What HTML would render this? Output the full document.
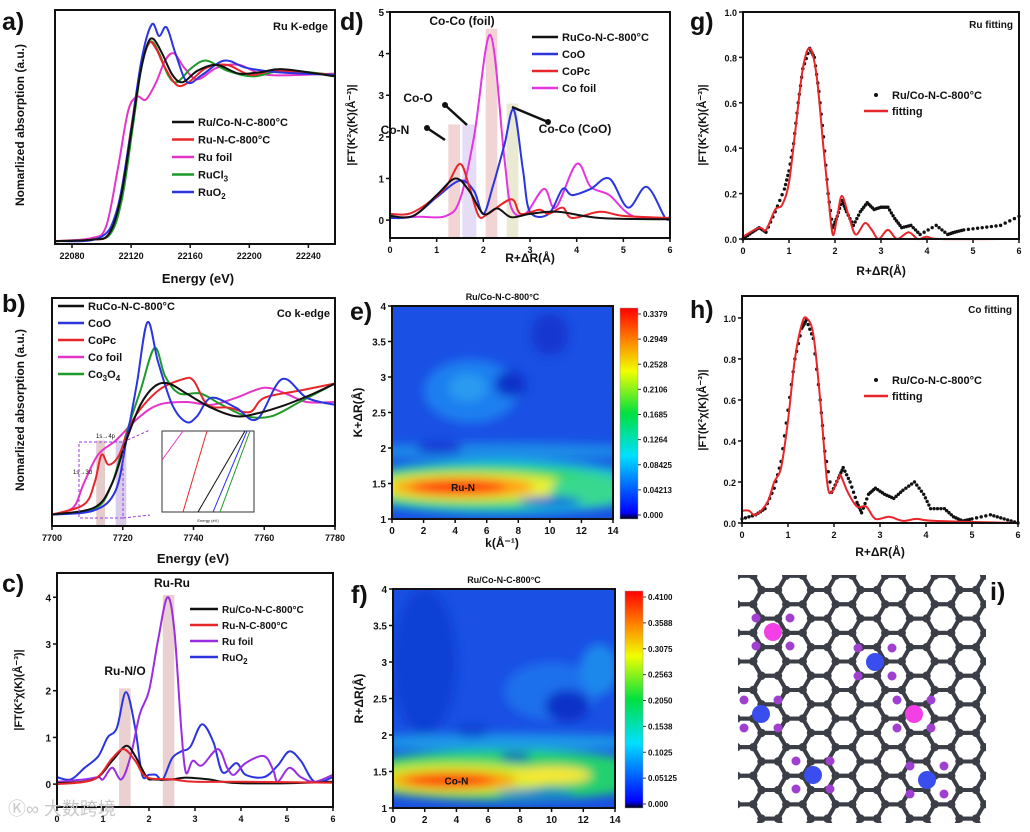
<!DOCTYPE html>
<html><head><meta charset="utf-8">
<style>
html,body{margin:0;padding:0;background:#fff;}
#root{position:relative;width:1030px;height:832px;overflow:hidden;font-family:"Liberation Sans",Arial,sans-serif;}
svg text{font-family:"Liberation Sans",Arial,sans-serif;}
</style></head>
<body>
<div id="root">
<svg id="svg" width="1030" height="832" viewBox="0 0 1030 832">
<defs>
<filter id="blur6" x="-50%" y="-50%" width="200%" height="200%"><feGaussianBlur stdDeviation="5"/></filter>
<linearGradient id="cbar" x1="0" y1="1" x2="0" y2="0">
<stop offset="0" stop-color="#000010"/><stop offset="0.03" stop-color="#0000ff"/><stop offset="0.3" stop-color="#00e0ff"/><stop offset="0.5" stop-color="#00e040"/><stop offset="0.7" stop-color="#f0ff00"/><stop offset="0.85" stop-color="#ff8000"/><stop offset="1" stop-color="#ff0000"/>
</linearGradient>
<clipPath id="clipE"><rect x="392" y="306" width="221" height="213"/></clipPath>
<clipPath id="clipF"><rect x="393" y="589" width="222" height="219"/></clipPath>
<clipPath id="clipI"><rect x="738" y="575" width="248" height="248"/></clipPath>
</defs>
<g id="layer"></g>
</svg>
</div>
<script>
// ---------- DATA ----------
const aRuCo=[[22068,0],[22093,0.01],[22105,0.05],[22113,0.3],[22120,0.75],[22126,1.15],[22131,1.36],[22135,1.4],[22141,1.3],[22148,1.15],[22155,1.1],[22165,1.18],[22178,1.22],[22193,1.16],[22208,1.17],[22223,1.19],[22258,1.14]];
const aRuN=[[22068,0],[22093,0.01],[22105,0.05],[22113,0.32],[22120,0.78],[22126,1.17],[22132,1.37],[22137,1.33],[22143,1.2],[22151,1.08],[22159,1.1],[22171,1.2],[22185,1.22],[22201,1.15],[22218,1.18],[22258,1.15]];
const aRuFoil=[[22068,0],[22093,0.02],[22103,0.1],[22111,0.5],[22118,0.9],[22124,1.0],[22130,0.98],[22137,1.1],[22143,1.25],[22149,1.3],[22156,1.2],[22165,1.12],[22178,1.2],[22193,1.22],[22213,1.15],[22258,1.16]];
const aRuCl3=[[22068,0],[22093,0.01],[22106,0.05],[22114,0.3],[22121,0.78],[22127,1.2],[22133,1.38],[22139,1.3],[22145,1.15],[22151,1.1],[22161,1.2],[22171,1.25],[22185,1.18],[22203,1.14],[22223,1.18],[22258,1.15]];
const aRuO2=[[22068,0],[22098,0.02],[22110,0.2],[22119,0.7],[22127,1.25],[22134,1.5],[22139,1.42],[22144,1.48],[22150,1.3],[22158,1.1],[22168,1.15],[22183,1.25],[22198,1.2],[22218,1.17],[22258,1.15]];
const aXTicks=[22080,22120,22160,22200,22240];
const bRuCo=[[7700,0.03],[7712,0.08],[7717,0.25],[7721,0.55],[7725,0.8],[7729,0.93],[7733,0.95],[7738,0.88],[7745,0.78],[7752,0.72],[7758,0.74],[7766,0.8],[7774,0.88],[7780,0.95]];
const bCoO=[[7700,0.03],[7712,0.06],[7718,0.2],[7721,0.55],[7724,0.95],[7727,1.38],[7730,1.1],[7734,0.8],[7738,0.68],[7741,0.72],[7745,0.85],[7752,0.78],[7758,0.7],[7765,0.98],[7772,0.85],[7780,0.8]];
const bCoPc=[[7700,0.03],[7709,0.1],[7712,0.25],[7714,0.45],[7716,0.38],[7719,0.45],[7723,0.7],[7730,0.9],[7737,0.98],[7740,0.97],[7744,0.8],[7750,0.78],[7756,0.75],[7760,0.85],[7770,0.9],[7780,0.95]];
const bCoFoil=[[7700,0.03],[7706,0.08],[7709,0.25],[7713,0.45],[7718,0.55],[7724,0.7],[7730,0.8],[7738,0.82],[7745,0.8],[7752,0.85],[7760,0.92],[7766,0.88],[7772,0.82],[7780,0.82]];
const bCo3O4=[[7700,0.03],[7712,0.07],[7717,0.25],[7721,0.6],[7725,0.9],[7729,1.2],[7732,1.0],[7736,0.88],[7742,0.88],[7748,0.8],[7755,0.72],[7762,0.72],[7770,0.82],[7780,0.95]];
const bXTicks=[7700,7720,7740,7760,7780];
const cRuCo=[[0,0.02],[0.8,0.1],[1.2,0.5],[1.5,0.82],[1.7,0.6],[1.95,0.15],[2.1,0.1],[2.5,0.1],[2.8,0.14],[3.3,0.1],[3.6,0.05],[4,0.02],[5,0.02],[6,0.05]];
const cRuN=[[0,0],[0.8,0.1],[1.2,0.55],[1.45,0.75],[1.7,0.5],[1.95,0.15],[2.5,0.1],[3,0.05],[4,0.05],[6,0.03]];
const cRuFoil=[[0,0.05],[0.6,0.1],[0.9,0.15],[1.0,0.1],[1.2,0.35],[1.4,0.1],[1.6,0.6],[1.8,1.5],[2.0,2.0],[2.2,3.1],[2.4,4.0],[2.55,3.3],[2.7,1.2],[2.8,0.25],[2.95,0.5],[3.15,0.4],[3.5,0.75],[3.7,0.35],[3.85,0.2],[4.1,0.45],[4.5,0.6],[4.7,0.3],[4.8,0.05],[5.05,0.35],[5.3,0.15],[5.6,0.05],[6,0.2]];
const cRuO2=[[0,0.15],[0.3,0.1],[0.6,0.35],[0.9,0.6],[1.1,1.0],[1.3,1.2],[1.5,1.97],[1.7,1.2],[1.85,0.2],[2.0,0.2],[2.15,0.2],[2.3,0.1],[2.5,0.55],[2.7,0.7],[2.9,0.8],[3.15,1.28],[3.4,0.9],[3.6,0.25],[3.9,0.45],[4.1,0.2],[4.5,0.15],[4.8,0.4],[5.05,0.7],[5.3,0.5],[5.6,0.05],[6,0.15]];
const cYTicks=[0,1,2,3,4];
const rTicks=[0,1,2,3,4,5,6];
const dRuCo=[[0,0.1],[0.5,0.1],[1.0,0.6],[1.4,1.0],[1.7,0.7],[2.0,0.15],[2.3,0.28],[2.6,0.07],[3,0.15],[3.6,0.2],[4.5,0.05],[6,0.02]];
const dCoO=[[0,0.05],[0.5,0.1],[1.0,0.55],[1.5,0.95],[1.8,0.7],[2.0,0.15],[2.2,0.8],[2.45,1.8],[2.65,2.65],[2.85,1.2],[3.0,0.2],[3.4,0.15],[3.7,0.75],[3.9,0.6],[4.3,0.75],[4.7,1.0],[5.1,0.3],[5.5,0.8],[5.9,0.05],[6,0.1]];
const dCoPc=[[0,0.15],[0.4,0.15],[0.8,0.4],[1.2,0.8],[1.5,1.35],[1.7,0.8],[1.9,0.1],[2.1,0.15],[2.6,0.5],[2.8,0.15],[3.2,0.25],[3.4,0.15],[3.7,0.3],[3.9,0.05],[4.5,0.2],[5,0.1],[6,0.05]];
const dCoFoil=[[0,0.05],[0.6,0.08],[1.2,0.1],[1.5,0.5],[1.8,2.0],[2.15,4.45],[2.45,1.5],[2.6,0.3],[2.9,0.15],[3.3,0.75],[3.55,0.3],[4.0,1.35],[4.3,0.8],[4.7,0.6],[5.2,0.1],[6,0.05]];
const dYTicks=[0,1,2,3,4,5];
const gData=[[0,0],[0.2,0.03],[0.35,0.05],[0.5,0.03],[0.7,0.12],[0.9,0.22],[1.0,0.3],[1.1,0.42],[1.2,0.6],[1.3,0.75],[1.45,0.84],[1.55,0.8],[1.65,0.65],[1.75,0.45],[1.85,0.2],[1.95,0.05],[2.05,0.1],[2.15,0.17],[2.25,0.12],[2.4,0.06],[2.55,0.12],[2.7,0.16],[2.85,0.13],[3.0,0.14],[3.15,0.14],[3.3,0.09],[3.45,0.05],[3.65,0.06],[3.85,0.02],[4.2,0.06],[4.45,0.02],[4.6,0.03],[4.8,0.04],[5.2,0.05],[5.6,0.06],[6,0.1]];
const gFit=[[0,0.01],[0.35,0.05],[0.5,0.04],[0.7,0.13],[0.85,0.15],[1.0,0.25],[1.15,0.5],[1.3,0.75],[1.45,0.84],[1.6,0.72],[1.75,0.4],[1.85,0.2],[1.95,0.02],[2.05,0.1],[2.15,0.19],[2.3,0.1],[2.45,0.02],[2.65,0.07],[2.8,0.04],[2.95,0],[3.15,0.04],[3.35,0],[3.6,0.03],[3.8,0],[4.0,0.01],[4.3,0],[6,0]];
const gYTicks=[0,0.2,0.4,0.6,0.8,1.0];
const hData=[[0,0.02],[0.3,0.04],[0.5,0.07],[0.7,0.17],[0.85,0.3],[1.0,0.55],[1.15,0.8],[1.3,0.95],[1.4,0.99],[1.55,0.9],[1.7,0.6],[1.8,0.35],[1.95,0.15],[2.1,0.22],[2.2,0.27],[2.35,0.2],[2.5,0.1],[2.6,0.05],[2.75,0.14],[2.9,0.17],[3.1,0.14],[3.3,0.12],[3.5,0.16],[3.75,0.2],[3.95,0.14],[4.1,0.07],[4.4,0.07],[4.6,0.03],[4.8,0.01],[5.0,0.02],[5.4,0.04],[5.7,0.02],[6,0]];
const hFit=[[0,0.06],[0.15,0.06],[0.3,0.04],[0.55,0.1],[0.7,0.2],[0.85,0.27],[1.0,0.5],[1.15,0.8],[1.3,0.97],[1.4,1.0],[1.55,0.92],[1.7,0.6],[1.85,0.2],[1.95,0.15],[2.1,0.22],[2.15,0.23],[2.3,0.15],[2.5,0.08],[2.7,0.08],[2.9,0.02],[3.2,0.03],[3.5,0.01],[3.8,0.02],[4.2,0.01],[6,0]];
const kTicks=[0,2,4,6,8,10,12,14];
const wYTicks=[1,1.5,2,2.5,3,3.5,4];
const eCbar=["0.3379","0.2949","0.2528","0.2106","0.1685","0.1264","0.08425","0.04213","0.000"];
const fCbar=["0.4100","0.3588","0.3075","0.2563","0.2050","0.1538","0.1025","0.05125","0.000"];

// ---------- DRAW ----------
const NS="http://www.w3.org/2000/svg";
const L=document.getElementById('layer');
function mk(tag,attrs,parent){const e=document.createElementNS(NS,tag);for(const k in attrs)e.setAttribute(k,attrs[k]);(parent||L).appendChild(e);return e;}
function txt(x,y,s,size,opts,parent){const o=opts||{};const t=mk('text',{x:x,y:y,'font-size':size,'font-weight':o.w||'bold','text-anchor':o.a||'start',fill:o.fill||'#111'},parent);if(o.rot)t.setAttribute('transform','rotate('+o.rot+' '+x+' '+y+')');t.textContent=s;return t;}
function axis(x0,x1,y0,y1,xmin,xmax,ymin,ymax){return {sx:v=>x0+(v-xmin)/(xmax-xmin)*(x1-x0),sy:v=>y1-(v-ymin)/(ymax-ymin)*(y1-y0),x0,x1,y0,y1};}
function smooth(pts){let d='M'+pts[0][0].toFixed(1)+','+pts[0][1].toFixed(1);for(let i=0;i<pts.length-1;i++){const p0=pts[i-1]||pts[i],p1=pts[i],p2=pts[i+1],p3=pts[i+2]||p2;const c1=[p1[0]+(p2[0]-p0[0])/6,p1[1]+(p2[1]-p0[1])/6],c2=[p2[0]-(p3[0]-p1[0])/6,p2[1]-(p3[1]-p1[1])/6];d+='C'+c1[0].toFixed(1)+','+c1[1].toFixed(1)+' '+c2[0].toFixed(1)+','+c2[1].toFixed(1)+' '+p2[0].toFixed(1)+','+p2[1].toFixed(1);}return d;}
function series(ax,data,color,name,w){const p=mk('path',{d:smooth(data.map(d=>[ax.sx(d[0]),ax.sy(d[1])])),fill:'none',stroke:color,'stroke-width':w||2});return p;}
function dots(ax,data,name){const g=mk('g',{fill:'#111'});
  for(let i=0;i<data.length-1;i++){const n=4;for(let j=0;j<n;j++){const t=j/n;const x=data[i][0]+(data[i+1][0]-data[i][0])*t,y=data[i][1]+(data[i+1][1]-data[i][1])*t;mk('circle',{cx:ax.sx(x),cy:ax.sy(y),r:1.7},g);}}
  const last=data[data.length-1];mk('circle',{cx:ax.sx(last[0]),cy:ax.sy(last[1]),r:1.7},g);}
function frame(ax,name){const r=mk('rect',{x:ax.x0,y:ax.y0,width:ax.x1-ax.x0,height:ax.y1-ax.y0,fill:'none',stroke:'#111','stroke-width':2});}
function xticks(ax,ticks,fmt,size){const g=mk('g',{});ticks.forEach(t=>{const x=ax.sx(t);mk('line',{x1:x,x2:x,y1:ax.y1,y2:ax.y1+4,stroke:'#111','stroke-width':1.5},g);txt(x,ax.y1+15,fmt?fmt(t):String(t),size||10,{a:'middle'},g);});}
function yticks(ax,ticks,fmt,size){const g=mk('g',{});ticks.forEach(t=>{const y=ax.sy(t);mk('line',{x1:ax.x0-4,x2:ax.x0,y1:y,y2:y,stroke:'#111','stroke-width':1.5},g);txt(ax.x0-6,y+4,fmt?fmt(t):String(t),size||10,{a:'end'},g);});}
function legend(x,y,items,dy,size,len){items.forEach((it,i)=>{const g=mk('g',{});const yy=y+i*dy;if(it[2]==='dot'){mk('circle',{cx:x+len/2,cy:yy,r:2,fill:'#111'},g);}else{mk('line',{x1:x,x2:x+len,y1:yy,y2:yy,stroke:it[1],'stroke-width':2.5},g);}const t=txt(x+len+4,yy+4,'',size||11,{},g);t.innerHTML=it[0];});}
function bars(ax,list){list.forEach(b=>{const r=mk('rect',{x:ax.sx(b[0]),y:ax.sy(b[2]),width:ax.sx(b[1])-ax.sx(b[0]),height:ax.y1-ax.sy(b[2]),fill:b[3],opacity:0.55});});}
function panelLabel(x,y,s){const t=txt(x,y,s,25,{});}

// ---- a ----
const A=axis(55,335,10,244,22068.5,22258,-0.02,1.6);
series(A,aRuFoil,'#e535c9','series-ru-foil');series(A,aRuCl3,'#1f9a2a','series-rucl3');series(A,aRuN,'#e8262a','series-ru-n-c');series(A,aRuO2,'#2a35e0','series-ruo2');series(A,aRuCo,'#111','series-ruco-n-c');
frame(A,'plot-a');xticks(A,aXTicks,null,9);
txt(198,283,'Energy (eV)',13,{a:'middle'});
txt(24,125,'Nomarlized absorption (a.u.)',12,{a:'middle',rot:-90});
txt(328,30,'Ru K-edge',11,{a:'end'});
legend(172,122,[['Ru/Co-N-C-800°C','#111'],['Ru-N-C-800°C','#e8262a'],['Ru foil','#e535c9'],['RuCl<tspan font-size="8" dy="3">3</tspan>','#1f9a2a'],['RuO<tspan font-size="8" dy="3">2</tspan>','#2a35e0']],17.5,11,22);
panelLabel(2,30,'a)');

// ---- b ----
const B=axis(52,335,298,526,7700,7780,-0.05,1.55);
const bBand=[[7712.5,7715,0.55,'#d9b7b7'],[7718,7721,0.55,'#c9b8e0']];
bBand.forEach(b=>{const r=mk('rect',{x:B.sx(b[0]),y:B.sy(b[2]),width:B.sx(b[1])-B.sx(b[0]),height:B.y1-B.sy(b[2]),fill:b[3],opacity:0.7});});
series(B,bCoFoil,'#e535c9','series-co-foil');series(B,bCo3O4,'#1f9a2a','series-co3o4');series(B,bCoPc,'#e8262a','series-copc');series(B,bCoO,'#2a35e0','series-coo');series(B,bRuCo,'#111','series-ruco');
mk('rect',{x:79,y:442,width:44,height:76,fill:'none',stroke:'#9a3ee0','stroke-width':1,'stroke-dasharray':'3,2'});
mk('line',{x1:123,y1:442,x2:150,y2:430,stroke:'#9a3ee0','stroke-width':1,'stroke-dasharray':'3,2'});
mk('line',{x1:123,y1:518,x2:150,y2:515,stroke:'#9a3ee0','stroke-width':1,'stroke-dasharray':'3,2'});
const ins=mk('g',{});
mk('rect',{x:162,y:431,width:92,height:81,fill:'#fff',stroke:'#333','stroke-width':1},ins);
mk('line',{x1:162,y1:460,x2:183,y2:431,stroke:'#e535c9','stroke-width':1},ins);
mk('line',{x1:183,y1:512,x2:207,y2:431,stroke:'#e8262a','stroke-width':1},ins);
mk('line',{x1:198,y1:512,x2:245,y2:431,stroke:'#111','stroke-width':1},ins);
mk('line',{x1:213,y1:512,x2:247,y2:431,stroke:'#2a35e0','stroke-width':1},ins);
mk('line',{x1:220,y1:512,x2:250,y2:431,stroke:'#1f9a2a','stroke-width':1},ins);
txt(208,522,'Energy (eV)',4,{a:'middle',w:'normal'},ins);
txt(96,438,'1s→4p',6,{w:'normal'},ins);txt(73,474,'1s→3d',6,{w:'normal'},ins);
frame(B,'plot-b');xticks(B,bXTicks,null,9);
txt(193,563,'Energy (eV)',13,{a:'middle'});
txt(24,410,'Nomarlized absorption (a.u.)',12,{a:'middle',rot:-90});
txt(330,317,'Co k-edge',11,{a:'end'});
legend(58,306,[['RuCo-N-C-800°C','#111'],['CoO','#2a35e0'],['CoPc','#e8262a'],['Co foil','#e535c9'],['Co<tspan font-size="8" dy="3">3</tspan><tspan dy="-3">O</tspan><tspan font-size="8" dy="3">4</tspan>','#1f9a2a']],17,11,26);
panelLabel(2,312,'b)');

// ---- c ----
const C=axis(57,333,573,807,0,6,-0.49,4.52);
bars(C,[[1.35,1.6,2.05,'#d9a9a9'],[2.3,2.55,4.05,'#d9a9a9']]);
series(C,cRuO2,'#2a35e0','series-ruo2');series(C,cRuFoil,'#9a2ee0','series-ru-foil');series(C,cRuCo,'#111','series-ruco');series(C,cRuN,'#e8262a','series-ru-n-c');
frame(C,'plot-c');xticks(C,rTicks,null,9);yticks(C,cYTicks);
txt(22,690,'|FT(K²χ(K)(Å⁻³)|',11,{a:'middle',rot:-90});
txt(172,587,'Ru-Ru',12,{a:'middle'});txt(125,675,'Ru-N/O',12,{a:'middle'});
legend(190,609,[['Ru/Co-N-C-800°C','#111'],['Ru-N-C-800°C','#e8262a'],['Ru foil','#9a2ee0'],['RuO<tspan font-size="8" dy="3">2</tspan>','#2a35e0']],16,10,28);
panelLabel(2,592,'c)');
txt(8,815,'Ⓚ∞ 大数跨境',18,{w:'normal',fill:'#c8c8c8'});

// ---- d ----
const D=axis(390,670,12,238,0,6,-0.43,5);
bars(D,[[1.25,1.5,2.3,'#eab0b0'],[1.55,1.85,2.3,'#cfc0ee'],[2.05,2.3,4.6,'#eab0b0'],[2.5,2.75,2.8,'#d8d8b0']]);
series(D,dCoFoil,'#e535e0','series-co-foil');series(D,dCoO,'#2a35e0','series-coo');series(D,dCoPc,'#e8262a','series-copc');series(D,dRuCo,'#111','series-ruco');
frame(D,'plot-d');xticks(D,rTicks,null,9);yticks(D,dYTicks);
txt(530,262,'R+ΔR(Å)',12,{a:'middle'});
txt(355,125,'|FT(K²χ(K)(Å⁻³)|',11,{a:'middle',rot:-90});
txt(462,25,'Co-Co (foil)',12,{a:'middle'});
txt(418,102,'Co-O',12,{a:'middle'});txt(395,134,'Co-N',12,{a:'middle'});txt(575,133,'Co-Co (CoO)',12,{a:'middle'});
[[445,140,427,128],[467,125,445,105],[512,107,548,122]].forEach(a=>{const l=mk('line',{x1:a[0],y1:a[1],x2:a[2],y2:a[3],stroke:'#111','stroke-width':2.5});mk('circle',{cx:a[2],cy:a[3],r:3,fill:'#111'});});
legend(532,37,[['RuCo-N-C-800°C','#111'],['CoO','#2a35e0'],['CoPc','#e8262a'],['Co foil','#e535e0']],17,11,26);
panelLabel(340,30,'d)');

// ---- wavelet helper ----
function wavelet(x0,x1,y0,y1,clip,blobs,cbx,cbLabels,title,ylab,label,hot,hotK,hotR,id){
  const ax=axis(x0,x1,y0,y1,0,14,1,4);
  const g=mk('g',{'clip-path':'url(#'+clip+')'});
  mk('rect',{x:x0,y:y0,width:x1-x0,height:y1-y0,fill:'#1a50e4'},g);
  const bg=mk('g',{filter:'url(#blur6)'},g);
  blobs.forEach(b=>{const e=mk('ellipse',{cx:ax.sx(b[0]),cy:ax.sy(b[1]),rx:(b[2])*(x1-x0)/14,ry:(b[3])*(y1-y0)/3,fill:b[4]},bg);});
  frame(ax,id+'-plot');xticks(ax,kTicks);yticks(ax,wYTicks,t=>String(t));
  txt(ax.sx(hotK),ax.sy(hotR)+4,hot,10,{a:'middle'});
  txt((x0+x1)/2,y0-6,title,9,{a:'middle'});
  mk('rect',{x:cbx,y:y0+2,width:18,height:y1-y0-2,fill:'url(#cbar)',stroke:'#999','stroke-width':0.5});
  cbLabels.forEach((s,i)=>{const yy=y0+8+i*(y1-y0-12)/(cbLabels.length-1);mk('line',{x1:cbx+18,x2:cbx+21,y1:yy,y2:yy,stroke:'#333'});txt(cbx+23,yy+3,s,8,{});});
  txt(x0-30,(y0+y1)/2,ylab,12,{a:'middle',rot:-90});
  panelLabel(x0-42,y0+14,label);
  return ax;
}
const eBlobs=[[7,1.95,10,0.12,'#1c8ce8'],[7,1.45,10,0.38,'#18c0d8'],[6,1.45,9,0.3,'#30d860'],[5,1.45,6.5,0.2,'#e8f030'],[4.5,1.45,4.5,0.14,'#ff9a10'],[4.2,1.45,3,0.09,'#ff2a10'],[12.5,1.4,2.5,0.22,'#38d890'],[10,1.25,2,0.06,'#1040e0'],[5,2.8,3,0.45,'#1e7ff0'],[4.8,2.85,1.2,0.2,'#2a9af0'],[7.5,2.9,1,0.18,'#0a30c8'],[10,3.6,1.2,0.3,'#1238d0'],[3,2.0,1.5,0.08,'#1238d0']];
const fBlobs=[[7,1.9,10,0.12,'#1a98e8'],[7,1.45,10,0.35,'#20d070'],[4,1.4,6,0.22,'#c8ee28'],[3.8,1.38,4,0.13,'#ff9a10'],[3.6,1.38,2.8,0.08,'#ff3010'],[10,1.45,2.5,0.12,'#f8e830'],[9,1.2,2.5,0.05,'#1c5fe0'],[7.7,1.7,1,0.05,'#0830c0'],[10,2.6,3,0.4,'#1e70ec'],[11,2.4,1.4,0.22,'#0c30c8'],[5,2.05,1.2,0.08,'#0c40d0'],[13,2.9,1.2,0.35,'#1a88ec'],[2,3,2,1,'#1040d4']];
wavelet(392,613,306,519,'clipE',eBlobs,620,eCbar,'Ru/Co-N-C-800°C','K+ΔR(Å)','e)','Ru-N',4.5,1.45,'wavelet-e');
txt(502,547,'k(Å⁻¹)',12,{a:'middle'});
wavelet(393,615,589,808,'clipF',fBlobs,625,fCbar,'Ru/Co-N-C-800°C','R+ΔR(Å)','f)','Co-N',4,1.38,'wavelet-f');

// ---- g ----
const G=axis(743,1019,12,239,0,6,0,1.0);
dots(G,gData,'series-ru-data');series(G,gFit,'#e8262a','series-ru-fit');
frame(G,'plot-g');xticks(G,rTicks,null,9);yticks(G,gYTicks,t=>t.toFixed(1),9);
txt(881,275,'R+ΔR(Å)',12,{a:'middle'});txt(706,125,'|FT(K²χ(K)(Å⁻³)|',11,{a:'middle',rot:-90});
txt(1013,28,'Ru fitting',10,{a:'end'});
legend(864,95,[['Ru/Co-N-C-800°C','#111','dot'],['fitting','#e8262a']],16,11,24);
panelLabel(690,30,'g)');

// ---- h ----
const H=axis(742,1018,296,523,0,6,0,1.107);
dots(H,hData,'series-co-data');series(H,hFit,'#e8262a','series-co-fit');
frame(H,'plot-h');xticks(H,rTicks,null,9);yticks(H,gYTicks,t=>t.toFixed(1),9);
txt(880,556,'R+ΔR(Å)',12,{a:'middle'});txt(706,410,'|FT(K²χ(K)(Å⁻³)|',11,{a:'middle',rot:-90});
txt(1012,313,'Co fitting',10,{a:'end'});
legend(864,380,[['Ru/Co-N-C-800°C','#111','dot'],['fitting','#e8262a']],16,11,24);
panelLabel(690,318,'h)');

// ---- i: lattice ----
const lat=mk('g',{'clip-path':'url(#clipI)'});
const a=16.5,h=a*Math.sqrt(3)/2;const verts=[];
for(let c=0;c<12;c++){for(let r=-1;r<10;r++){const cx=745+c*1.5*a,cy=590+r*2*h+(c%2?h:0);let pts=[];for(let k=0;k<6;k++){const an=Math.PI/3*k;pts.push([cx+a*Math.cos(an),cy+a*Math.sin(an)]);}
 mk('polygon',{points:pts.map(p=>p.join(',')).join(' '),fill:'none',stroke:'#3b3e46','stroke-width':4},lat);pts.forEach(p=>verts.push(p));}}
const vg=mk('g',{fill:'#3b3e46'},lat);const seen={};verts.forEach(p=>{const k=Math.round(p[0])+'_'+Math.round(p[1]);if(seen[k])return;seen[k]=1;mk('circle',{cx:p[0],cy:p[1],r:4.2},vg);});
const metals=[[773,632,'#f23fe6'],[875,662,'#3a4ef0'],[761,714,'#3a4ef0'],[914,714,'#f23fe6'],[813,775,'#3a4ef0'],[927,780,'#3a4ef0']];
metals.forEach(m=>{[[-1,-1],[1,-1],[-1,1],[1,1]].forEach(d=>{mk('circle',{cx:m[0]+d[0]*17,cy:m[1]+d[1]*14,r:4.5,fill:'#a040d0'},lat);});const c=mk('circle',{cx:m[0],cy:m[1],r:9,fill:m[2]},lat);});
panelLabel(990,600,'i)');
</script>
</body></html>
